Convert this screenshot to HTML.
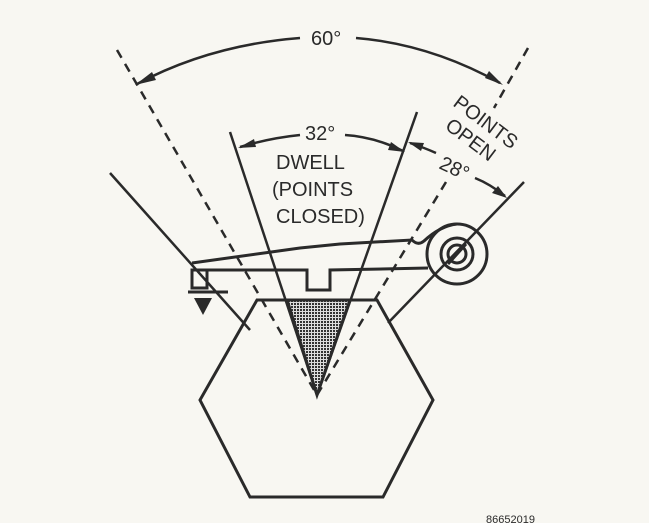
<!DOCTYPE html>
<html><head><style>html,body{margin:0;padding:0;background:#f8f7f2;}svg{display:block}</style></head><body>
<svg width="649" height="523" viewBox="0 0 649 523" xmlns="http://www.w3.org/2000/svg" font-family="Liberation Sans, sans-serif" fill="none" stroke="#2a2a2a">
<defs>
<pattern id="dots" width="3" height="3" patternUnits="userSpaceOnUse"><rect width="3" height="3" fill="#ddd" stroke="none"/><rect width="2" height="2" fill="#333" stroke="none"/></pattern>
</defs>
<g stroke-width="2.5" stroke-dasharray="9,7">
<line x1="117" y1="50" x2="317" y2="395"/>
<line x1="528" y1="48" x2="494" y2="108"/>
<line x1="446" y1="182" x2="317" y2="395"/>
</g>
<polygon points="257,300 377,300 433,400 383,497 250,497 200,400" stroke-width="3"/>
<polygon points="287,300 350,300 317,395" fill="url(#dots)" stroke-width="3"/>
<g stroke-width="2.5">
<line x1="230" y1="132" x2="317" y2="395"/>
<line x1="417" y1="112" x2="317" y2="395"/>
<line x1="110" y1="173" x2="250" y2="330"/>
<line x1="524" y1="182" x2="388" y2="323"/>
</g>
<g stroke-width="3">
<path d="M192,263 L300,248 L340,244 L412,240 Q418,246 424,241 Q440,226 457,224"/>
<path d="M195,270 L307,270 L307,290 L330,290 L330,270 L428,268"/>
<circle cx="457" cy="254" r="30"/>
<circle cx="457" cy="254" r="16"/>
<circle cx="457" cy="254" r="9"/>
<line x1="448" y1="264" x2="466" y2="244"/>
<rect x="192" y="270" width="15" height="18"/>
<line x1="188" y1="292" x2="228" y2="292"/>
</g>
<polygon points="194,298 212,298 203,315" fill="#2a2a2a" stroke="none"/>
<g stroke-width="2.5">
<path d="M137,84 Q210,45 300,38"/>
<path d="M356,38 Q430,44 500,83"/>
<path d="M240,147 Q270,138 300,135"/>
<path d="M345,135 Q375,137 403,151"/>
<path d="M410,143 Q425,148 436,153"/>
<path d="M475,178 Q490,184 505,196"/>
</g>
<g fill="#2a2a2a" stroke="none">
<polygon points="135,85 152,72 156,80"/>
<polygon points="503,85 485,78 489,71"/>
<polygon points="238,148 254,139 256,147"/>
<polygon points="405,152 388,150 391,142"/>
<polygon points="408,142 424,143 421,151"/>
<polygon points="507,198 492,193 498,186"/>
</g>
<g fill="#2a2a2a" stroke="none" font-size="20">
<text x="311" y="45">60°</text>
<text x="305" y="140">32°</text>
<text x="276" y="169">DWELL</text>
<text x="272" y="196">(POINTS</text>
<text x="276" y="223">CLOSED)</text>
<text transform="translate(452,105) rotate(37)">POINTS</text>
<text transform="translate(444,128) rotate(37)">OPEN</text>
<text transform="translate(438,168) rotate(25)">28°</text>
<text x="486" y="523" font-size="11">86652019</text>
</g>
</svg>
</body></html>
